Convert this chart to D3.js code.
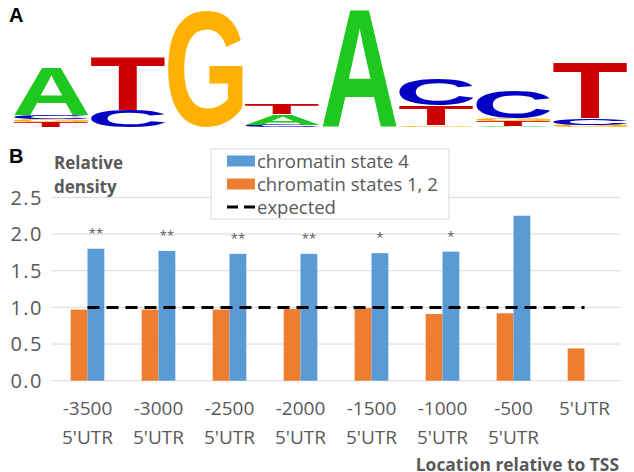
<!DOCTYPE html>
<html>
<head>
<meta charset="utf-8">
<script src="https://cdn.jsdelivr.net/npm/d3@7"></script>
<style>
  body { margin: 0; background: #fff; }
  svg { display: block; }
  text { font-family: 'Open Sans', sans-serif; }
</style>
</head>
<body>
<svg id="fig" width="634" height="472"></svg>
<script>
// ---- panel A: sequence logo (letter heights in bits, listed bottom to top) ----
const logoColumns = [
  [['T', 0.08], ['G', 0.05], ['C', 0.07], ['A', 0.80]],
  [['C', 0.28], ['T', 0.88]],
  [['G', 1.93]],
  [['C', 0.04], ['A', 0.18], ['T', 0.18]],
  [['A', 1.98]],
  [['G', 0.03], ['T', 0.33], ['C', 0.43]],
  [['A', 0.02], ['T', 0.08], ['G', 0.05], ['C', 0.47]],
  [['G', 0.04], ['C', 0.11], ['T', 0.92]]
];
const letterColors = { A: '#1ec81e', C: '#0000c4', G: '#ffb000', T: '#cc0000' };

// ---- panel B: bar chart ----
const categories = ['-3500|5\'UTR', '-3000|5\'UTR', '-2500|5\'UTR', '-2000|5\'UTR',
  '-1500|5\'UTR', '-1000|5\'UTR', '-500|5\'UTR', '5\'UTR'];
const state4 = [1.80, 1.77, 1.73, 1.73, 1.74, 1.76, 2.25, null];
const states12 = [0.97, 0.97, 0.97, 0.98, 0.99, 0.91, 0.92, 0.44];
const expected = [1, 1, 1, 1, 1, 1, 1, 1];
const stars = ['**', '**', '**', '**', '*', '*', '', ''];
const yTicks = [0, 0.5, 1.0, 1.5, 2.0, 2.5];

const blue = '#5b9bd5', orange = '#ed7d31', grey = '#595959', gridCol = '#d9d9d9';

const svg = d3.select('#fig');

// panel letters
svg.append('text').attr('x', 9).attr('y', 22)
  .style('font-family', 'Liberation Sans, Arial, sans-serif')
  .attr('font-weight', 'bold').attr('font-size', 20).text('A');
svg.append('text').attr('x', 9).attr('y', 163)
  .style('font-family', 'Liberation Sans, Arial, sans-serif')
  .attr('font-weight', 'bold').attr('font-size', 20).text('B');

// ---- logo ----
const logoX = d3.scaleBand().domain(d3.range(logoColumns.length)).range([14, 628]).paddingInner(0.03);
const logoY = d3.scaleLinear().domain([0, 2]).range([127, 7]);

const ctx = document.createElement('canvas').getContext('2d');
const logoFont = "bold 100px 'Liberation Sans'";
ctx.font = logoFont;
const metrics = {};
'ACGT'.split('').forEach((l) => { metrics[l] = ctx.measureText(l); });

const logo = svg.append('g');
logoColumns.forEach((col, i) => {
  let base = 0;
  col.forEach(([letter, bits]) => {
    const m = metrics[letter];
    const inkW = m.actualBoundingBoxLeft + m.actualBoundingBoxRight;
    const inkH = m.actualBoundingBoxAscent + m.actualBoundingBoxDescent;
    const x0 = logoX(i), w = logoX.bandwidth();
    const yTop = logoY(base + bits), h = logoY(base) - yTop;
    logo.append('text')
      .attr('transform', `translate(${x0},${yTop}) scale(${w / inkW},${h / inkH}) translate(${m.actualBoundingBoxLeft},${m.actualBoundingBoxAscent})`)
      .style('font', logoFont)
      .attr('fill', letterColors[letter])
      .text(letter);
    base += bits;
  });
});

// ---- bar chart ----
const x = d3.scaleBand().domain(categories).range([52, 620]);
const x1 = d3.scaleBand().domain(['s12', 's4']).range([0, x.bandwidth()]).paddingOuter(1.11);
const y = d3.scaleLinear().domain([0, 2.5]).range([380.7, 197.4]);

const chart = svg.append('g');

chart.append('g').selectAll('line').data(yTicks).join('line')
  .attr('x1', 52).attr('x2', 620)
  .attr('y1', (d) => y(d)).attr('y2', (d) => y(d))
  .attr('stroke', gridCol).attr('stroke-width', 1);

chart.append('g').selectAll('text').data(yTicks).join('text')
  .attr('x', 43).attr('y', (d) => y(d)).attr('dy', '0.36em')
  .attr('text-anchor', 'end').attr('font-size', 20).attr('letter-spacing', 1.5).attr('fill', grey)
  .text((d) => d3.format('.1f')(d));

chart.append('g').selectAll('rect').data(states12).join('rect')
  .attr('x', (d, i) => x(categories[i]) + x1('s12'))
  .attr('width', x1.bandwidth())
  .attr('y', (d) => y(d)).attr('height', (d) => y(0) - y(d))
  .attr('fill', orange);

chart.append('g').selectAll('rect').data(state4).join('rect')
  .filter((d) => d !== null)
  .attr('x', (d, i) => x(categories[i]) + x1('s4'))
  .attr('width', x1.bandwidth())
  .attr('y', (d) => y(d)).attr('height', (d) => y(0) - y(d))
  .attr('fill', blue);

chart.append('g').selectAll('text').data(stars).join('text')
  .attr('x', (d, i) => x(categories[i]) + x1('s4') + x1.bandwidth() / 2)
  .attr('y', (d, i) => y(state4[i] || 0) - 11)
  .attr('text-anchor', 'middle').attr('font-size', 13).attr('fill', grey)
  .text((d) => d);

const line = d3.line()
  .x((d, i) => x(categories[i]) + x.bandwidth() / 2)
  .y((d) => y(d));
chart.append('path').datum(expected)
  .attr('d', line).attr('fill', 'none')
  .attr('stroke', '#000').attr('stroke-width', 3).attr('stroke-dasharray', '12,7');

// x labels (two lines)
const xl = chart.append('g').selectAll('text').data(categories).join('text')
  .attr('text-anchor', 'middle').attr('font-size', 19).attr('fill', grey);
xl.selectAll('tspan').data((d, i) => d.split('|').map((s) => ({ s, i })))
  .join('tspan')
  .attr('x', (d) => x(categories[d.i]) + x.bandwidth() / 2)
  .attr('y', (d, j) => 415 + j * 28.5)
  .text((d) => d.s);

// axis titles
chart.append('text').attr('x', 54).attr('y', 169)
  .attr('font-size', 17).attr('font-weight', 'bold').attr('fill', grey).text('Relative');
chart.append('text').attr('x', 54).attr('y', 193)
  .attr('font-size', 17).attr('font-weight', 'bold').attr('fill', grey).text('density');
chart.append('text').attr('x', 619).attr('y', 471).attr('text-anchor', 'end')
  .attr('font-size', 17.4).attr('font-weight', 'bold').attr('fill', grey).text('Location relative to TSS');

// legend
const legendItems = [
  { label: 'chromatin state 4', color: blue, type: 'rect' },
  { label: 'chromatin states 1, 2', color: orange, type: 'rect' },
  { label: 'expected', color: '#000', type: 'line' }
];
const legend = svg.append('g');
legend.append('rect').attr('x', 211).attr('y', 149).attr('width', 238).attr('height', 70)
  .attr('fill', '#fff').attr('stroke', gridCol);
const li = legend.selectAll('g').data(legendItems).join('g')
  .attr('transform', (d, i) => `translate(227,${161 + i * 23})`);
li.filter((d) => d.type === 'rect').append('rect')
  .attr('x', 0).attr('y', -5.5).attr('width', 28).attr('height', 11).attr('fill', (d) => d.color);
li.filter((d) => d.type === 'line').append('line')
  .attr('x1', 0).attr('x2', 28).attr('y1', 0).attr('y2', 0)
  .attr('stroke', '#000').attr('stroke-width', 3).attr('stroke-dasharray', '11,6');
li.append('text').attr('x', 30).attr('y', 0).attr('dy', '0.36em')
  .attr('font-size', 18.5).attr('fill', grey).text((d) => d.label);
</script>
</body>
</html>
